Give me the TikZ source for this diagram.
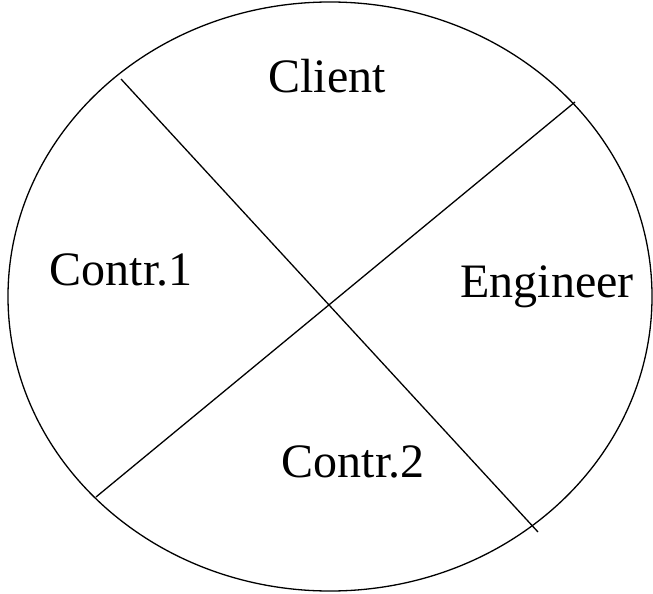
\documentclass[tikz,border=0pt]{standalone}
\usepackage{fontspec}
\setmainfont{Liberation Serif}
\begin{document}
\begin{tikzpicture}[x=1bp,y=-1bp,
  party/.style={anchor=base,inner sep=0pt,font=\fontsize{48bp}{56bp}\selectfont},
  divider/.style={line width=1.3bp,black}]
\useasboundingbox (0,0) rectangle (653,594);
% outer boundary
\draw[divider] (330,296.5) ellipse [x radius=322, y radius=294.5];
% the two dividing lines
\coordinate (a1) at (121,79);
\coordinate (a2) at (538,532);
\coordinate (b1) at (575,102);
\coordinate (b2) at (96,497);
\draw[divider] (a1) -- (a2);
\draw[divider] (b1) -- (b2);
% quadrant labels
\node[party] (client) at (327,93) {Client};
\node[party] (c1) at (121,285) {Contr.1};
\node[party] (eng) at (547,297) {Engineer};
\node[party] (c2) at (353,477) {Contr.2};
\end{tikzpicture}
\end{document}
